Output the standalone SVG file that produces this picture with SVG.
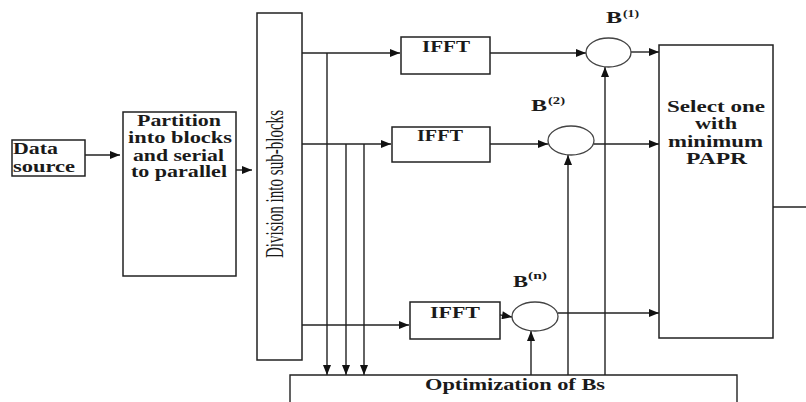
<svg xmlns="http://www.w3.org/2000/svg" width="806" height="402" viewBox="0 0 806 402">
<defs>
<marker id="ah" viewBox="0 0 10 8" refX="10" refY="4" markerWidth="11" markerHeight="8" markerUnits="userSpaceOnUse" orient="auto">
<path d="M0,0 L10,4 L0,8 z" fill="#111"/>
</marker>
<style>
.box{fill:#fff;stroke:#222;stroke-width:1.5}
.ell{fill:#fff;stroke:#444;stroke-width:1.3}
.ln{fill:none;stroke:#222;stroke-width:1.4}
.arr{fill:none;stroke:#222;stroke-width:1.4;marker-end:url(#ah)}
.t{font-family:"Liberation Serif","Times New Roman",serif;font-weight:bold;font-size:16px;fill:#1a1a1a}
.r{font-family:"Liberation Serif","Times New Roman",serif;font-size:25px;fill:#1a1a1a}
.sup{font-family:"Liberation Serif","Times New Roman",serif;font-weight:bold;font-size:11px;fill:#1a1a1a}
</style>
</defs>
<rect width="806" height="402" fill="#fff"/>

<g id="connectors">
<line class="arr" x1="85" y1="155" x2="120" y2="155"/>
<line class="arr" x1="232" y1="170" x2="252" y2="170"/>
<line class="arr" x1="302" y1="53" x2="400" y2="53"/>
<line class="arr" x1="302" y1="144" x2="391" y2="144"/>
<line class="arr" x1="302" y1="325" x2="409" y2="325"/>
<line class="arr" x1="327" y1="53" x2="327" y2="375"/>
<line class="arr" x1="346" y1="144" x2="346" y2="375"/>
<line class="arr" x1="364" y1="144" x2="364" y2="375"/>
<line class="arr" x1="476" y1="53" x2="586" y2="53"/>
<line class="arr" x1="482" y1="144" x2="548" y2="144"/>
<line class="arr" x1="483" y1="312" x2="512" y2="317"/>
<line class="arr" x1="631" y1="52" x2="659" y2="52"/>
<line class="arr" x1="594" y1="144" x2="659" y2="144"/>
<line class="arr" x1="558" y1="313" x2="659" y2="313"/>
<line class="arr" x1="531" y1="375" x2="531" y2="331"/>
<line class="arr" x1="568" y1="375" x2="568" y2="155"/>
<line class="arr" x1="605" y1="375" x2="605" y2="67"/>
<line class="ln" x1="773" y1="207" x2="806" y2="207"/>
</g>

<g id="data-source">
<rect class="box" x="12" y="140" width="73" height="36"/>
<text class="t" x="13" y="154" textLength="45" lengthAdjust="spacingAndGlyphs">Data</text>
<text class="t" x="13" y="172" textLength="62" lengthAdjust="spacingAndGlyphs">source</text>
</g>

<g id="partition">
<rect class="box" x="123" y="112" width="113" height="164"/>
<text class="t" x="137" y="126" textLength="84" lengthAdjust="spacingAndGlyphs">Partition</text>
<text class="t" x="128" y="143" textLength="104" lengthAdjust="spacingAndGlyphs">into blocks</text>
<text class="t" x="133" y="161" textLength="91" lengthAdjust="spacingAndGlyphs">and serial</text>
<text class="t" x="131" y="177" textLength="96" lengthAdjust="spacingAndGlyphs">to parallel</text>
</g>

<g id="division">
<rect class="box" x="257" y="13" width="45" height="347"/>
<text class="r" transform="translate(283,258) rotate(-90)" x="0" y="0" textLength="148" lengthAdjust="spacingAndGlyphs">Division into sub-blocks</text>
</g>

<g id="ifft1">
<rect class="box" x="401" y="37" width="89" height="37"/>
<text class="t" x="422" y="52" textLength="48" lengthAdjust="spacingAndGlyphs">IFFT</text>
</g>
<g id="ifft2">
<rect class="box" x="392" y="127" width="98" height="35"/>
<text class="t" x="417" y="141" textLength="46" lengthAdjust="spacingAndGlyphs">IFFT</text>
</g>
<g id="ifftn">
<rect class="box" x="410" y="302" width="90" height="37"/>
<text class="t" x="430" y="318" textLength="50" lengthAdjust="spacingAndGlyphs">IFFT</text>
</g>

<g id="b1">
<ellipse class="ell" cx="608.5" cy="52.5" rx="22.5" ry="14.5"/>
<text class="t" x="606" y="23" textLength="16" lengthAdjust="spacingAndGlyphs">B</text>
<text class="sup" x="623" y="17" textLength="16" lengthAdjust="spacingAndGlyphs">(1)</text>
</g>
<g id="b2">
<ellipse class="ell" cx="571" cy="140.5" rx="23" ry="14.5"/>
<text class="t" x="531" y="111" textLength="16" lengthAdjust="spacingAndGlyphs">B</text>
<text class="sup" x="548" y="104" textLength="17" lengthAdjust="spacingAndGlyphs">(2)</text>
</g>
<g id="bn">
<ellipse class="ell" cx="535" cy="316.5" rx="23" ry="14.5"/>
<text class="t" x="513" y="287" textLength="15" lengthAdjust="spacingAndGlyphs">B</text>
<text class="sup" x="528" y="279" textLength="19" lengthAdjust="spacingAndGlyphs">(n)</text>
</g>

<g id="select">
<rect class="box" x="659" y="45" width="114" height="293"/>
<text class="t" x="667" y="112" textLength="98" lengthAdjust="spacingAndGlyphs">Select one</text>
<text class="t" x="695" y="129" textLength="42" lengthAdjust="spacingAndGlyphs">with</text>
<text class="t" x="668" y="147" textLength="95" lengthAdjust="spacingAndGlyphs">minimum</text>
<text class="t" x="686" y="164" textLength="61" lengthAdjust="spacingAndGlyphs">PAPR</text>
</g>

<g id="optimization">
<path class="ln" d="M290,403 V375 H737 V403"/>
<text class="t" x="425" y="390" textLength="180" lengthAdjust="spacingAndGlyphs">Optimization of Bs</text>
</g>
</svg>
